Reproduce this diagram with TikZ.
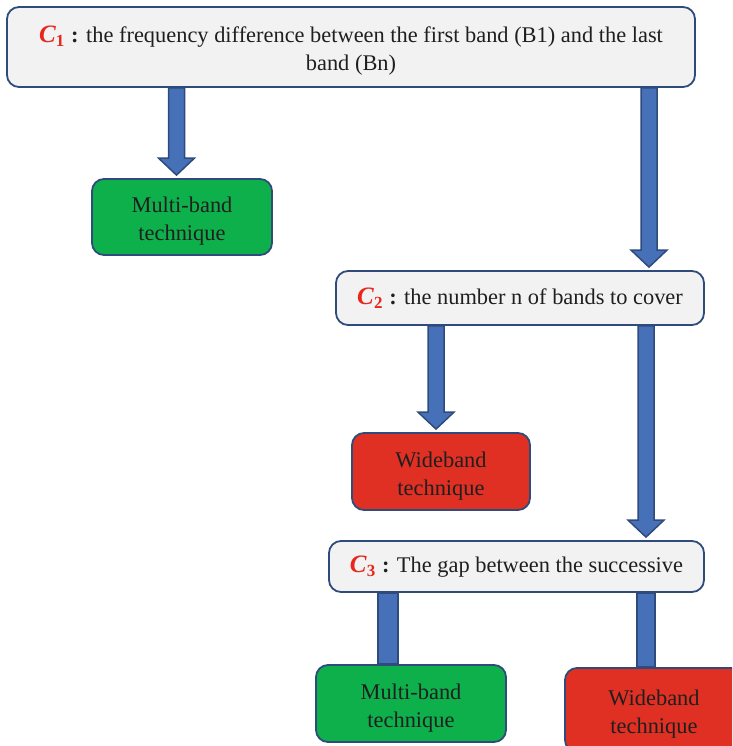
\documentclass[tikz,border=0pt]{standalone}
\usepackage{fontspec}
\setmainfont{Liberation Serif}
\usetikzlibrary{calc}

\definecolor{edgeblue}{HTML}{2F4B7C}
\definecolor{arrowblue}{HTML}{4670B8}
\definecolor{boxgray}{HTML}{F2F2F2}
\definecolor{okgreen}{HTML}{0DB04B}
\definecolor{badred}{HTML}{E03024}
\definecolor{labelred}{HTML}{E8261C}

\pgfdeclarelayer{back}
\pgfsetlayers{back,main}

% condition label such as  C_1 :
\newcommand\condlabel[1]{\textcolor{labelred}{{\fontsize{25}{25}\selectfont\textbf{\textit{C}}}\raisebox{-0.4ex}{\fontsize{17}{17}\selectfont\textbf{#1}}}\hspace{0.3em}\textbf{:}}
% taller first line so two-line texts sit a little lower in their boxes
\newcommand\firstline{\rule{0pt}{24pt}}

% block arrow from #1 (shaft top) pointing down at #2 (tip)
\newcommand\blockarrow[2]{%
  \draw[shaft] let \p1=#1, \p2=#2 in
    (\x1-8pt,\y1) -- (\x1-8pt,\y2+20pt) -- (\x1-18pt,\y2+20pt) -- (\x1,\y2+3pt)
    -- (\x1+18pt,\y2+20pt) -- (\x1+8pt,\y2+20pt) -- (\x1+8pt,\y1) -- cycle;}

\tikzset{
  box/.style={draw=edgeblue, line width=1.8pt, rounded corners=12pt, align=center,
    inner sep=0pt, text=black!88, font=\fontsize{22.4}{28}\selectfont},
  cond/.style={box, fill=boxgray},
  good/.style={box, fill=okgreen},
  bad/.style={box, fill=badred},
  shaft/.style={draw=edgeblue, line width=1.5pt, fill=arrowblue, line join=miter},
}

\begin{document}
\begin{tikzpicture}[x=1pt,y=-1pt]
\clip (0,0) rectangle (732,746);

% arrow positions
\coordinate (a1) at (176.5,0);
\coordinate (a2) at (649,0);
\coordinate (a3) at (436,0);
\coordinate (a4) at (646,0);
\coordinate (a5) at (388,0);
\coordinate (a6) at (646,0);

% boxes
\node[cond, minimum width=688pt, minimum height=80pt] (top) at (351,47)
  {\firstline\condlabel{1} the frequency difference between the first band (B1) and the last\\ band (Bn)};
\node[good, minimum width=180pt, minimum height=76pt] (mb1) at (182,217) {\firstline Multi-band\\ technique};
\node[cond, minimum width=368pt, minimum height=54pt] (c2) at (520,298)
  {\condlabel{2} the number n of bands to cover};
\node[bad, minimum width=178pt, minimum height=77pt] (wb1) at (441,471.5) {\firstline Wideband\\ technique};
\node[cond, minimum width=375pt, minimum height=51pt] (c3) at (516.5,566.5)
  {\condlabel{3} The gap between the successive};
\node[good, minimum width=190pt, minimum height=77pt] (mb2) at (411,703.5) {\firstline Multi-band\\ technique};
\node[bad, minimum width=178pt, minimum height=84pt] (wb2) at (654,710) {\firstline Wideband\\ technique};

% connectors, drawn behind the boxes
\begin{pgfonlayer}{back}
  \blockarrow{(top.south -| a1)}{(mb1.north -| a1)}
  \blockarrow{(top.south -| a2)}{(c2.north -| a2)}
  \blockarrow{(c2.south -| a3)}{(wb1.north -| a3)}
  \blockarrow{(c2.south -| a4)}{(c3.north -| a4)}
  \draw[shaft] ($(c3.south -| a5)+(-10,0)$) rectangle ($(mb2.north -| a5)+(10,0)$);
  \draw[shaft] ($(c3.south -| a6)+(-9,0)$) rectangle ($(wb2.north -| a6)+(9,0)$);
\end{pgfonlayer}
\end{tikzpicture}
\end{document}
